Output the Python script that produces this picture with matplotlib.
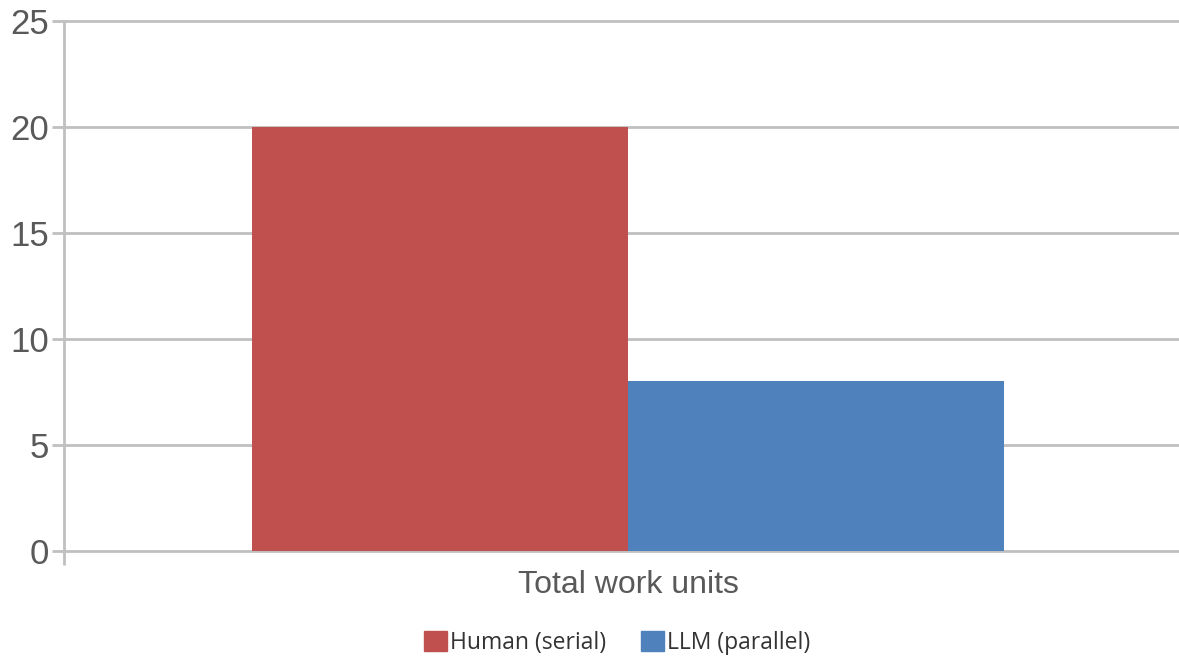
import matplotlib.pyplot as plt
from matplotlib.patches import Patch

categories = ['Total work units']
series_names = ['Human (serial)', 'LLM (parallel)']
series_values = [[20], [8]]
series_colors = ['#C0504D', '#4F81BD']
y_ticks = [0, 5, 10, 15, 20, 25]

GRID = '#C0C0C0'
TEXT = '#595959'

fig = plt.figure(figsize=(11.79, 6.59), dpi=100, facecolor='w')
ax = fig.add_axes([64 / 1179, 108 / 659, 1128 / 1179, 530 / 659])

n = len(series_names)
width = 1.0 / (n + 1)
for i, (name, vals) in enumerate(zip(series_names, series_values)):
	offs = (i - (n - 1) / 2) * width
	xs = [c + offs for c in range(len(categories))]
	ax.bar(xs, vals, width=width, color=series_colors[i], label=name, zorder=3)

ax.set_xlim(-0.5, len(categories) - 0.5)
ax.set_ylim(0, 25)
ax.set_yticks(y_ticks)
ax.set_yticklabels([str(t) for t in y_ticks], fontsize=25, color=TEXT, family='Liberation Sans')
ax.set_xticks(range(len(categories)))
ax.set_xticklabels(categories, fontsize=23, color=TEXT, family='Liberation Sans')
ax.set_xticks([-0.5], minor=True)

ax.tick_params(axis='y', length=9, width=2, color=GRID, pad=2)
ax.tick_params(axis='x', which='major', length=0, pad=14)
ax.tick_params(axis='x', which='minor', length=10, width=2, color=GRID, direction='out')

ax.grid(axis='y', color=GRID, lw=2, zorder=0)
ax.set_axisbelow(True)
for gl in ax.get_ygridlines():
	gl.set_clip_on(False)
for spine in ('top', 'right', 'bottom'):
	ax.spines[spine].set_visible(False)
ax.spines['left'].set_color(GRID)
ax.spines['left'].set_linewidth(2)

handles = [Patch(color=c, label=nm) for c, nm in zip(series_colors, series_names)]
fig.legend(handles=handles, loc='center', bbox_to_anchor=(617 / 1179, 1 - 643 / 659),
	ncol=2, frameon=False, handlelength=1.0, handleheight=1.0, handletextpad=0.15,
	columnspacing=1.5, prop={'family': 'Open Sans', 'size': 16.5}, labelcolor='#333333')

fig.savefig('out.png', dpi=100)
